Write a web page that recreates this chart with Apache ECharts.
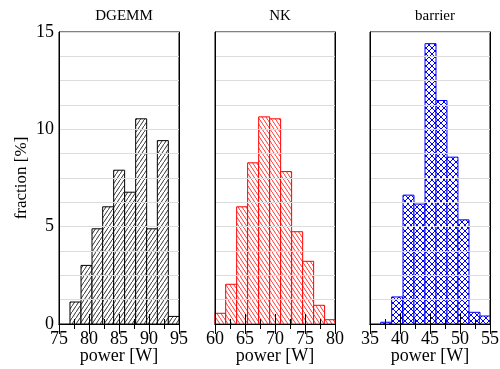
<!DOCTYPE html>
<html>
<head>
<meta charset="utf-8">
<script src="https://cdn.jsdelivr.net/npm/echarts@6/dist/echarts.min.js"></script>
<style>
  html, body { margin: 0; padding: 0; background: #fff; }
  #chart { width: 500px; height: 369px; }
</style>
</head>
<body>
<div id="chart"></div>
<script>
const panelNames = ['DGEMM', 'NK', 'barrier'];
const panelColors = ['#000000', '#ff0000', '#0000ff'];
const xRanges = [[75, 95], [60, 80], [35, 55]];
const yTicks = [0, 5, 10, 15];
const binWidth = 1.83;

// left edges of the histogram bins and the fraction [%] per bin
const dgemmBinStarts = [76.83, 78.67, 80.5, 82.28, 84.11, 85.94, 87.78, 89.61, 91.39, 93.22];
const dgemmFraction = [1.13, 3.01, 4.89, 6.02, 7.90, 6.77, 10.54, 4.89, 9.42, 0.39];
const nkBinStarts = [60.0, 61.78, 63.61, 65.44, 67.28, 69.11, 70.94, 72.78, 74.61, 76.44, 78.22];
const nkFraction = [0.55, 2.04, 6.02, 8.28, 10.64, 10.54, 7.83, 4.74, 3.22, 0.96, 0.22];
const barrierBinStarts = [36.78, 38.61, 40.5, 42.33, 44.17, 46.0, 47.83, 49.67, 51.5, 53.22];
const barrierFraction = [0.09, 1.39, 6.62, 6.16, 14.40, 11.48, 8.57, 5.35, 0.60, 0.41];

const binStarts = [dgemmBinStarts, nkBinStarts, barrierBinStarts];
const fractions = [dgemmFraction, nkFraction, barrierFraction];
const hatchKinds = ['slash', 'backslash', 'cross'];

const FONT = '"Liberation Serif", "DejaVu Serif", serif';
const gridLeft = [59, 215, 370];
const gridTop = 32;
const gridW = 120;
const gridH = 292;

// small tiles for the hatch fills
function makeHatch(kind, color) {
  const c = document.createElement('canvas');
  const w = kind === 'cross' ? 6 : 4;
  const h = 6;
  c.width = w;
  c.height = h;
  const ctx = c.getContext('2d');
  ctx.fillStyle = '#fff';
  ctx.fillRect(0, 0, w, h);
  ctx.strokeStyle = color;
  ctx.lineWidth = kind === 'cross' ? 1 : 0.8;
  const line = (x0, y0, x1, y1) => {
    ctx.beginPath();
    ctx.moveTo(x0, y0);
    ctx.lineTo(x1, y1);
    ctx.stroke();
  };
  [-h, 0, h].forEach((dy) => {
    if (kind === 'slash' || kind === 'cross') line(0, h + dy, w, dy);
    if (kind === 'backslash' || kind === 'cross') line(0, dy, w, h + dy);
  });
  return { image: c, repeat: 'repeat' };
}

const grids = [];
const xAxes = [];
const yAxes = [];
const series = [];
const titles = [];

for (let i = 0; i < 3; i++) {
  grids.push({
    left: gridLeft[i], top: gridTop, width: gridW, height: gridH,
    show: true, borderColor: '#000', borderWidth: 1,
    outerBoundsMode: 'none'
  });

  const tickStyle = { show: true, inside: true, length: 10, lineStyle: { color: '#000', width: 1 } };
  const minorStyle = { show: true, splitNumber: 2, length: 5, lineStyle: { color: '#000', width: 1 } };

  xAxes.push({
    type: 'value', gridIndex: i, position: 'bottom',
    min: xRanges[i][0], max: xRanges[i][1], interval: 5,
    axisLine: { show: true, lineStyle: { color: '#000', width: 1 } },
    axisTick: tickStyle,
    minorTick: minorStyle,
    splitLine: { show: false },
    axisLabel: {
      color: '#000', fontFamily: FONT, fontSize: 18, margin: 6,
      showMinLabel: true, showMaxLabel: true
    },
    name: 'power [W]', nameLocation: 'middle', nameGap: 23,
    nameMoveOverlap: false,
    nameTextStyle: { color: '#000', fontFamily: FONT, fontSize: 18 },
    z: 5
  });
  xAxes.push({
    type: 'value', gridIndex: i, position: 'top',
    min: xRanges[i][0], max: xRanges[i][1], interval: 5,
    axisLine: { show: true, lineStyle: { color: '#000', width: 1 } },
    axisTick: tickStyle,
    minorTick: minorStyle,
    splitLine: { show: false },
    axisLabel: { show: false },
    z: 5
  });

  yAxes.push({
    type: 'value', gridIndex: i, position: 'left',
    min: yTicks[0], max: yTicks[yTicks.length - 1], interval: 1.25,
    axisLine: { show: true, lineStyle: { color: '#000', width: 1 } },
    axisTick: { show: false },
    splitLine: { show: true, lineStyle: { color: '#dcdcdc', width: 1 } },
    axisLabel: {
      show: i === 0, color: '#000', fontFamily: FONT, fontSize: 18, margin: 5,
      formatter: (v) => (yTicks.includes(v) ? String(v) : '')
    },
    name: i === 0 ? 'fraction [%]' : '',
    nameLocation: 'middle', nameGap: 29,
    nameMoveOverlap: false,
    nameTextStyle: { color: '#000', fontFamily: FONT, fontSize: 17 },
    z: 5
  });
  yAxes.push({
    type: 'value', gridIndex: i, position: 'right',
    min: yTicks[0], max: yTicks[yTicks.length - 1],
    axisLine: { show: true, lineStyle: { color: '#000', width: 1 } },
    axisTick: { show: false },
    splitLine: { show: false },
    axisLabel: { show: false },
    z: 5
  });

  const color = panelColors[i];
  const pattern = makeHatch(hatchKinds[i], color);
  series.push({
    type: 'custom',
    xAxisIndex: i * 2,
    yAxisIndex: i * 2,
    data: binStarts[i].map((x, k) => [x, x + binWidth, fractions[i][k]]),
    renderItem: (params, api) => {
      const p0 = api.coord([api.value(0), api.value(2)]);
      const p1 = api.coord([api.value(1), 0]);
      const rect = echarts.graphic.clipRectByRect({
        x: p0[0], y: p0[1], width: p1[0] - p0[0], height: p1[1] - p0[1]
      }, {
        x: params.coordSys.x, y: params.coordSys.y,
        width: params.coordSys.width, height: params.coordSys.height
      });
      if (!rect) return null;
      return {
        type: 'rect',
        shape: rect,
        style: { fill: pattern, stroke: color, lineWidth: 1 }
      };
    },
    z: 2,
    silent: true
  });

  titles.push({
    text: panelNames[i],
    left: gridLeft[i] + gridW / 2,
    top: 4,
    textAlign: 'center',
    textStyle: { color: '#000', fontFamily: FONT, fontSize: 15, fontWeight: 'normal' }
  });
}

const chart = echarts.init(document.getElementById('chart'), null, { renderer: 'canvas' });
chart.setOption({
  animation: false,
  backgroundColor: '#fff',
  title: titles,
  grid: grids,
  xAxis: xAxes,
  yAxis: yAxes,
  series: series
});
</script>
</body>
</html>
